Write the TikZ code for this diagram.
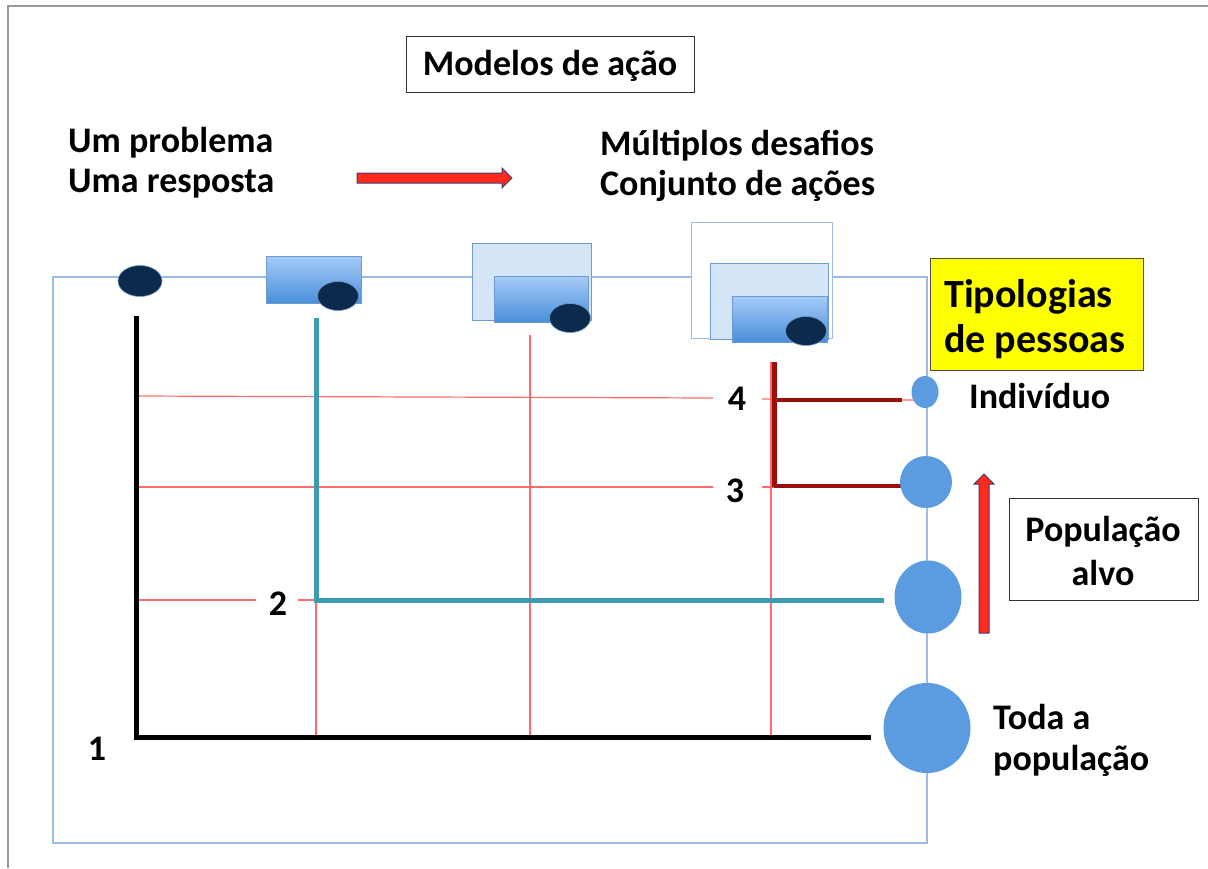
\documentclass[tikz,border=0pt]{standalone}
\usepackage{fontspec}
\setmainfont{Carlito}
\usetikzlibrary{shapes.geometric}
\definecolor{navy}{HTML}{0B2A4C}
\definecolor{frameblue}{HTML}{9DBCE3}
\definecolor{boxedge}{HTML}{6E9CD2}
\definecolor{gtop}{HTML}{A6CBF8}
\definecolor{gbot}{HTML}{4A8FDA}
\definecolor{lightbox}{HTML}{D5E5F8}
\definecolor{dotblue}{HTML}{5B9BDF}
\definecolor{gridred}{HTML}{FF6A6A}
\definecolor{darkred}{HTML}{9A0F0A}
\definecolor{teal}{HTML}{3A9BB2}
\definecolor{arrowred}{HTML}{FF2A1A}
\definecolor{arrowedge}{HTML}{3C3C7A}
\definecolor{yel}{HTML}{FFFF00}
\tikzset{
  lbl/.style={font=\bfseries\fontsize{36}{40}\selectfont, inner sep=0pt, anchor=base west},
  num/.style={font=\bfseries\fontsize{36}{40}\selectfont, inner sep=0pt, anchor=base},
  dot/.style={ellipse, fill=navy, draw=boxedge, line width=0.6pt, inner sep=0pt},
  pop/.style={ellipse, fill=dotblue, inner sep=0pt},
  gbox/.style={draw=boxedge, line width=1pt, top color=gtop, bottom color=gbot},
  lbox/.style={draw=boxedge, line width=1pt, fill=lightbox},
  wbox/.style={draw=frameblue, line width=1pt, fill=white},
  grid/.style={draw=gridred, line width=1.2pt},
  redarrow/.style={fill=arrowred, draw=arrowedge, line width=1pt, line join=miter}
}
\begin{document}
\begin{tikzpicture}[x=1pt,y=-1pt]
\useasboundingbox (0,0) rectangle (1208,868);
% outer gray frame
\draw[gray!80, line width=1.5pt] (8,868) -- (8,6) -- (1208,6);
% inner blue frame
\draw[frameblue, line width=1.3pt] (53,277) rectangle (927,843);

% title box
\draw[black!80, line width=0.8pt] (406,36) rectangle (694,92);
\node[lbl, anchor=base] (title) at (550,75) {Modelos de ação};

% top texts
\node[lbl] (l1) at (68,152) {Um problema};
\node[lbl] (l2) at (68,192) {Uma resposta};
\node[lbl] (r1) at (600,155) {Múltiplos desafios};
\node[lbl] (r2) at (600,195) {Conjunto de ações};
% horizontal arrow
\draw[redarrow] (357,173) -- (502,173) -- (502,168) -- (512,178) -- (502,188) -- (502,183) -- (357,183) -- cycle;

% icons
\node[dot, minimum width=44pt, minimum height=31pt] (d1) at (140,281) {};
\draw[gbox] (266,256) rectangle (361,303);
\node[dot, minimum width=41pt, minimum height=29pt] (d2) at (338,296) {};
\draw[lbox] (472,243) rectangle (591,320);
\draw[gbox] (494,276) rectangle (588,322);
\node[dot, minimum width=41pt, minimum height=29pt] (d3) at (570,318) {};
\draw[wbox] (691,222) rectangle (832,338);
\draw[lbox] (710,263) rectangle (828,339);
\draw[gbox] (732,296) rectangle (827,342);
\node[dot, minimum width=41pt, minimum height=29pt] (d4) at (806,331) {};

% red thin grid
\draw[grid] (136,396) -- (713,398);
\draw[grid] (762,399) -- (918,400);
\draw[grid] (136,487) -- (713,487);
\draw[grid] (762,487) -- (905,487);
\draw[grid] (136,600) -- (256,600);
\draw[grid] (298,600) -- (316,600);
\draw[grid] (316,600) -- (316,738);
\draw[grid] (530,335) -- (530,738);
\draw[grid] (771,362) -- (771,738);

% black L
\draw[black, line width=5pt, line cap=rect] (136,318) -- (136,737) -- (868,737);
% teal L
\draw[teal, line width=5pt] (316,318) -- (316,600) -- (884,600);
% dark red
\draw[darkred, line width=5pt] (774,362) -- (774,487);
\draw[darkred, line width=4.5pt] (774,400) -- (902,400);
\draw[darkred, line width=4.5pt] (774,486) -- (903,486);

% numbers
\node[num] (n1) at (97,760) {1};
\node[num] (n2) at (278,615) {2};
\node[num] (n3) at (735,502) {3};
\node[num] (n4) at (737,410) {4};

% population circles
\node[pop, minimum width=27pt, minimum height=32pt] (p4) at (925,392) {};
\node[pop, minimum width=52pt, minimum height=52pt] (p3) at (926,482) {};
\node[pop, minimum width=67pt, minimum height=73pt] (p2) at (928,597) {};
\node[pop, minimum width=87pt, minimum height=90pt] (p1) at (927,728) {};

% right labels
\node[lbl] (ind) at (969,408) {Indivíduo};
\node[lbl] (toda1) at (993,729) {Toda a};
\node[lbl] (toda2) at (993,770) {população};
\draw[black!80, line width=0.8pt] (1009,498) rectangle (1198,600);
\node[lbl, anchor=base] (alvo1) at (1103,541) {População};
\node[lbl, anchor=base] (alvo2) at (1103,585) {alvo};
\draw[fill=yel, draw=black!70, line width=0.6pt] (930,258) rectangle (1143,370);
\node[lbl, font=\bfseries\fontsize{40}{44}\selectfont] (tip1) at (944,307) {Tipologias};
\node[lbl, font=\bfseries\fontsize{40}{44}\selectfont] (tip2) at (944,352) {de pessoas};
% vertical arrow
\draw[redarrow] (979,633) -- (979,484) -- (974,484) -- (984,474) -- (994,484) -- (989,484) -- (989,633) -- cycle;
\end{tikzpicture}
\end{document}
